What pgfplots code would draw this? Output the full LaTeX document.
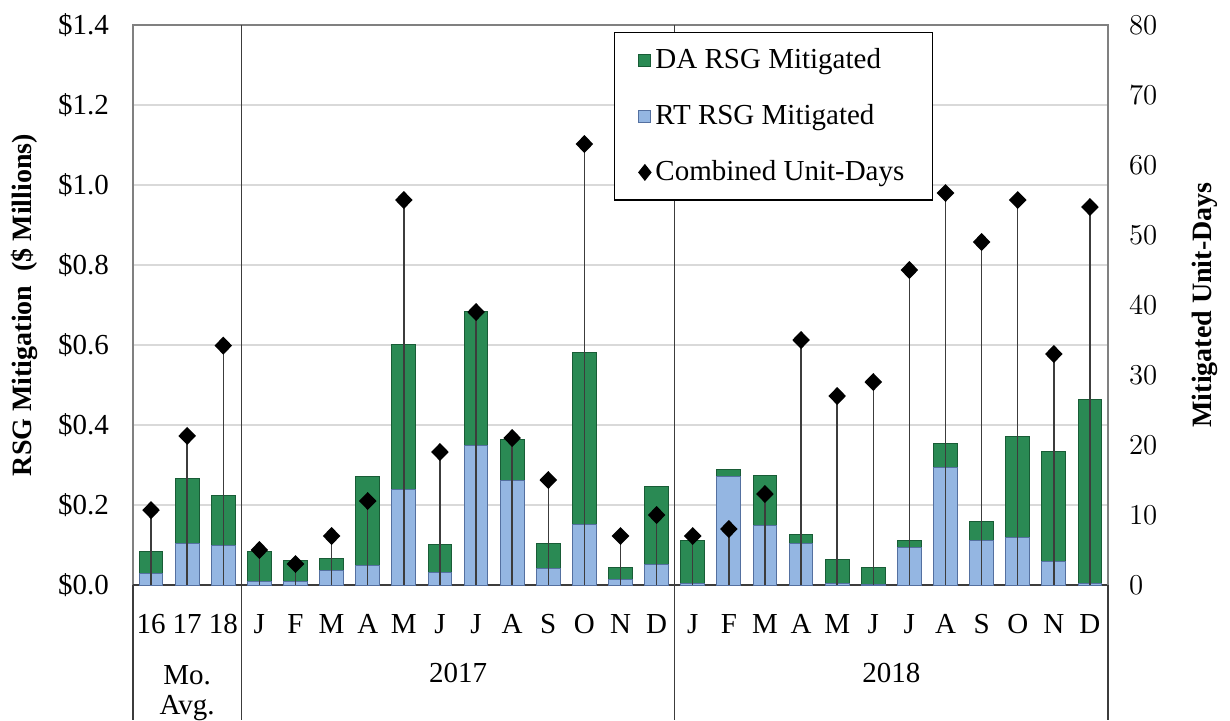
\documentclass[border=0pt]{standalone}
\usepackage{fontspec}
\setmainfont{Liberation Serif}
\usepackage{pgfplots}
\usepackage{pgfplotstable}
\pgfplotsset{compat=1.18}

\definecolor{dagreen}{RGB}{42,138,84}
\definecolor{dagreendk}{RGB}{24,92,54}
\definecolor{rtblue}{RGB}{148,182,226}
\definecolor{rtbluedk}{RGB}{84,112,160}
\definecolor{gridgray}{RGB}{217,217,217}
\definecolor{framegray}{RGB}{128,128,128}
\definecolor{sepgray}{RGB}{60,60,60}

\newcommand\tickfont{\fontsize{14.5}{17}\selectfont}
\newcommand\legfont{\fontsize{14.5}{17}\selectfont}
\newcommand\labfont{\fontsize{14}{17}\selectfont\bfseries}

% x: category index, rt/da in $ millions, days = unit-days
\pgfplotstableread{
x rt da days
0 0.028 0.055 10.7
1 0.103 0.164 21.3
2 0.100 0.124 34.2
3 0.010 0.073 5
4 0.010 0.051 3
5 0.037 0.030 7
6 0.049 0.222 12
7 0.238 0.364 55
8 0.032 0.069 19
9 0.350 0.335 39
10 0.261 0.103 21
11 0.041 0.063 15
12 0.152 0.429 63
13 0.014 0.029 7
14 0.051 0.195 10
15 0.004 0.107 7
16 0.272 0.018 8
17 0.149 0.126 13
18 0.103 0.023 35
19 0.003 0.062 27
20 0.002 0.041 29
21 0.095 0.016 45
22 0.295 0.058 56
23 0.112 0.047 49
24 0.120 0.251 55
25 0.058 0.276 33
26 0.004 0.460 54
}\datatable

\begin{document}
\begin{tikzpicture}
\begin{axis}[
  width=487.5pt, height=280pt, scale only axis,
  xmin=-0.5, xmax=26.5, ymin=0, ymax=1.4,
  ybar stacked, bar width=0.66,
  clip=false,
  xtick={0,...,26},
  xticklabels={16,17,18,J,F,M,A,M,J,J,A,S,O,N,D,J,F,M,A,M,J,J,A,S,O,N,D},
  ytick={0,0.2,0.4,0.6,0.8,1.0,1.2,1.4},
  yticklabel={\$\pgfmathprintnumber[fixed,fixed zerofill,precision=1]{\tick}},
  /pgf/number format/assume math mode=true,
  ymajorgrids, grid style={gridgray, line width=0.6pt},
  major tick length=0,
  axis line style={framegray, line width=0.7pt},
  tick label style={font=\tickfont},
  xticklabel style={yshift=-11pt},
  yticklabel style={xshift=-8.5pt},
  ylabel={RSG Mitigation\ \ (\$ Millions)},
  ylabel style={font=\labfont, at={(axis description cs:-0.111,0.5)}, anchor=center},
]
\addplot[draw=rtbluedk, line width=0.5pt, fill=rtblue]
  table[x=x, y=rt]{\datatable};
\addplot[draw=dagreendk, line width=0.5pt, fill=dagreen]
  table[x=x, y=da]{\datatable};
% group separators and frame extensions below the axis
\draw[sepgray, line width=0.7pt] (axis cs:2.5,1.4) -- ([yshift=-67.5pt]axis cs:2.5,0);
\draw[sepgray, line width=0.7pt] (axis cs:14.5,1.4) -- ([yshift=-67.5pt]axis cs:14.5,0);
\draw[sepgray, line width=0.7pt] (rel axis cs:0,0) -- ([yshift=-67.5pt]rel axis cs:0,0);
\draw[sepgray, line width=0.7pt] (rel axis cs:1,0) -- ([yshift=-67.5pt]rel axis cs:1,0);
\draw[sepgray, line width=0.7pt] (rel axis cs:0,0) -- (rel axis cs:1,0);
\node[font=\tickfont] at ([yshift=-45pt]axis cs:1,0) {Mo.};
\node[font=\tickfont] at ([yshift=-61.5pt]axis cs:1,0) {Avg.};
\node[font=\tickfont] at ([yshift=-44pt]axis cs:8.5,0) {2017};
\node[font=\tickfont] at ([yshift=-44pt]axis cs:20.5,0) {2018};
\end{axis}

\begin{axis}[
  width=487.5pt, height=280pt, scale only axis,
  xmin=-0.5, xmax=26.5, ymin=0, ymax=80,
  axis x line=none, axis y line*=right,
  ytick={0,10,...,80},
  major tick length=0,
  axis line style={framegray, line width=0.7pt},
  tick label style={font=\tickfont},
  yticklabel style={xshift=7pt},
  ylabel={Mitigated Unit-Days},
  ylabel style={font=\labfont, at={(axis description cs:1.0995,0.5)}, anchor=center},
  legend style={at={(0.493,0.9875)}, anchor=north west, draw=black, line width=0.6pt,
    font=\legfont, row sep=12.5pt, inner xsep=12pt, inner ysep=6pt, fill=white},
  legend cell align=left,
]
\addlegendimage{legend image code/.code={\draw[draw=dagreendk, fill=dagreen] (0pt,-3pt) rectangle (6pt,3pt);}}
\addlegendentry{DA RSG Mitigated}
\addlegendimage{legend image code/.code={\draw[draw=rtbluedk, fill=rtblue] (0pt,-3pt) rectangle (6pt,3pt);}}
\addlegendentry{RT RSG Mitigated}
\addlegendimage{legend image code/.code={\fill[black] (3pt,3.8pt) -- (6pt,0pt) -- (3pt,-3.8pt) -- (0pt,0pt) -- cycle;}}
\addlegendentry{Combined Unit-Days}
\addplot[ycomb, forget plot, sepgray, line width=0.7pt, mark=diamond*, mark size=4pt,
  mark options={black, xscale=1.3}]
  table[x=x, y=days]{\datatable};
\end{axis}
\pgfresetboundingbox
\path[use as bounding box] (-66.5pt,-67.5pt) rectangle (548.5pt,292.5pt);
\end{tikzpicture}
\end{document}
